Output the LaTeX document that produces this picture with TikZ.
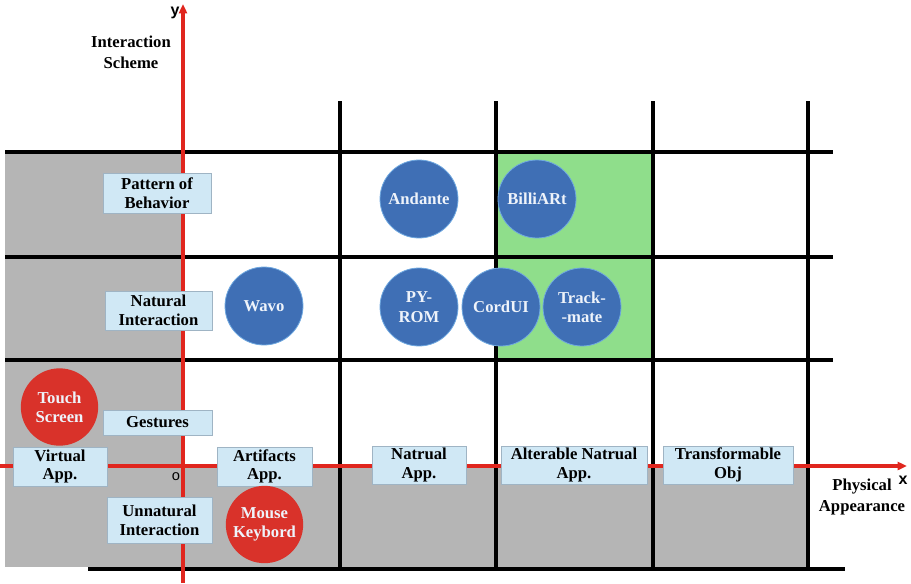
\documentclass[tikz,border=0pt]{standalone}
\usepackage{fontspec}
\setmainfont{Liberation Serif}
\newfontfamily\axisfont{Liberation Sans}
\usetikzlibrary{arrows.meta}
\definecolor{grayfill}{HTML}{B5B5B5}
\definecolor{greenfill}{HTML}{8FDE8B}
\definecolor{boxfill}{HTML}{D0E8F5}
\definecolor{boxedge}{HTML}{9FB4C4}
\definecolor{bluec}{HTML}{3F6FB5}
\definecolor{blueedge}{HTML}{6FA8E0}
\definecolor{redc}{HTML}{D9322A}
\definecolor{axisred}{HTML}{E0261E}
\definecolor{ctext}{HTML}{EEF3FA}
\begin{document}
\begin{tikzpicture}[x=0.75pt,y=-0.75pt,
  grid/.style={line width=2.3pt,black},
  axis/.style={line width=2.3pt,axisred,-{Triangle[length=7pt,width=6pt]}},
  lbl/.style={draw=boxedge,fill=boxfill,line width=0.6pt,inner sep=0pt,align=center,
    font=\fontsize{12.5}{14}\selectfont\bfseries},
  bcirc/.style={circle,fill=bluec,draw=blueedge,line width=0.6pt,minimum size=58.5pt,inner sep=0pt,
    align=center,text=ctext,font=\fontsize{12.5}{14.5}\selectfont\bfseries},
  rcirc/.style={circle,fill=redc,minimum size=58pt,inner sep=0pt,
    align=center,text=ctext,font=\fontsize{12.5}{14.5}\selectfont\bfseries},
  plain/.style={align=center,font=\fontsize{12.5}{15.5}\selectfont\bfseries}]
\useasboundingbox (0,0) rectangle (911,583);
% fills
\fill[grayfill] (5,152) rectangle (183,466);
\fill[grayfill] (5,466) rectangle (808,567);
\fill[greenfill] (496,152) rectangle (653,360);
% grid
\coordinate (h1a) at (5,152); \coordinate (h1b) at (833,152);
\coordinate (h2a) at (5,257); \coordinate (h2b) at (833,257);
\coordinate (h3a) at (5,360); \coordinate (h3b) at (833,360);
\coordinate (h4a) at (88,569); \coordinate (h4b) at (845,569);
\draw[grid] (h1a) -- (h1b);
\draw[grid] (h2a) -- (h2b);
\draw[grid] (h3a) -- (h3b);
\draw[grid] (h4a) -- (h4b);
\foreach \xx in {340,496,653,808}{
  \draw[grid] (\xx,101) -- (\xx,569);
}
% axes
\coordinate (ybot) at (183,583); \coordinate (ytop) at (183,4);
\coordinate (xl) at (0,466); \coordinate (xr) at (907,466);
\draw[axis] (ybot) -- (ytop);
\draw[axis] (xl) -- (xr);
\node[font=\axisfont\fontsize{12}{12}\selectfont\bfseries] (ylab) at (175,13) {y};
\node[font=\axisfont\fontsize{12}{12}\selectfont\bfseries] (xlab) at (903,480) {x};
\node[font=\axisfont\fontsize{11}{11}\selectfont] (olab) at (176,477) {o};
\node[plain] (is) at (131,52) {Interaction\\Scheme};
\node[plain] (pa) at (862,497) {Physical\\Appearance};
% label boxes
\node[lbl,minimum width=81pt,minimum height=30pt] (pob) at (157,193) {Pattern of\\Behavior};
\node[lbl,minimum width=80.25pt,minimum height=29.25pt] (ni) at (158.5,310.5) {Natural\\Interaction};
\node[lbl,minimum width=81.75pt,minimum height=18.75pt] (ges) at (157.5,422.5) {Gestures};
\node[lbl,minimum width=78.75pt,minimum height=34.5pt] (ui) at (159.5,520) {Unnatural\\Interaction};
\node[lbl,minimum width=70.5pt,minimum height=29.25pt] (va) at (60,466.5) {Virtual\\App.};
\node[lbl,minimum width=71.25pt,minimum height=29.25pt] (aa) at (264.5,466.5) {Artifacts\\App.};
\node[lbl,minimum width=70.5pt,minimum height=28.5pt] (na) at (419,465) {Natrual\\App.};
\node[lbl,minimum width=109.5pt,minimum height=28.5pt] (ana) at (574,465) {Alterable Natrual\\App.};
\node[lbl,minimum width=97.5pt,minimum height=28.5pt] (to) at (728,465) {Transformable\\Obj};
% circles
\node[rcirc] (ts) at (59.5,407) {Touch\\Screen};
\node[rcirc] (mk) at (264.5,524.5) {Mouse\\Keybord};
\node[bcirc] (wavo) at (264,306) {Wavo};
\node[bcirc] (and) at (419,199) {Andante};
\node[bcirc] (bil) at (537,199) {BilliARt};
\node[bcirc] (py) at (419,307) {PY-\\ROM};
\node[bcirc] (cord) at (501,307) {CordUI};
\node[bcirc] (tm) at (582,307) {Track-\\-mate};
\end{tikzpicture}
\end{document}
